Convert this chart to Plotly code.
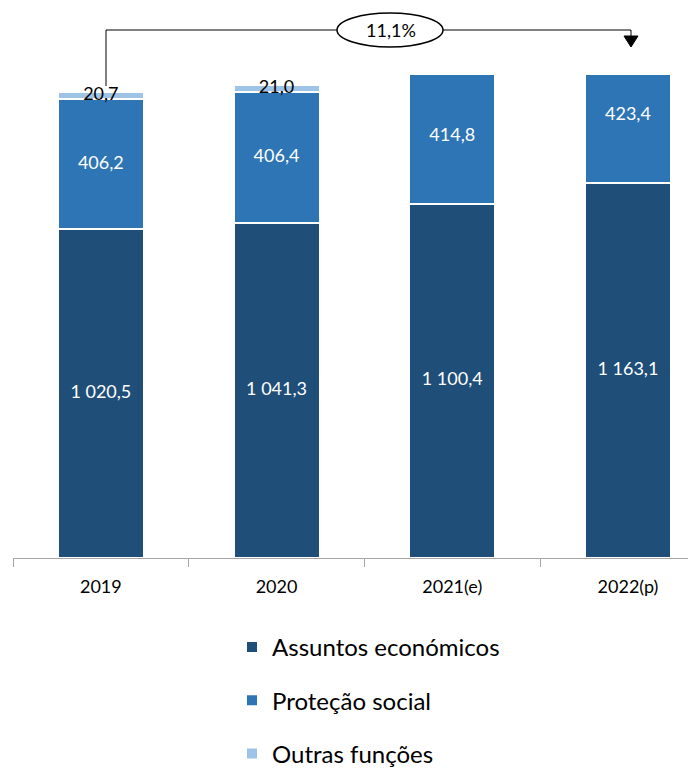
import plotly.graph_objects as go

anos = ["2019", "2020", "2021(e)", "2022(p)"]
assuntos = [1020.5, 1041.3, 1100.4, 1163.1]
protecao = [406.2, 406.4, 414.8, 423.4]
outras = [20.7, 21.0, None, None]
variacao = "11,1%"

c_assuntos = "#1F4E79"
c_protecao = "#2E75B6"
c_outras = "#9DC3E6"
fonte = "Lato, 'Open Sans', sans-serif"

# page body adds an 8px margin, so the figure is shifted by that much
OFF = 8
W, H = 696, 772
L, R, T, B = 13 - OFF, 0, 75 - OFF, 772 - (558 - OFF)
pw, ph = W - L - R, H - T - B
x_range = [-0.5, -0.5 + pw / 175.7]


def px_x(p):
    # screen pixel -> paper x
    return (p - OFF - L) / pw


def px_y(p):
    # screen pixel -> paper y
    return (H - B - (p - OFF)) / ph


fig = go.Figure()
fig.add_trace(go.Bar(x=anos, y=assuntos, name="Assuntos económicos",
                     marker=dict(color=c_assuntos, line=dict(color="white", width=2)),
                     textposition="none", legendgroup="a"))
fig.add_trace(go.Bar(x=anos, y=protecao, name="Proteção social",
                     marker=dict(color=c_protecao, line=dict(color="white", width=2)),
                     textposition="none", legendgroup="b"))
fig.add_trace(go.Bar(x=anos, y=outras, name="Outras funções",
                     marker=dict(color=c_outras, line=dict(color="white", width=2)),
                     textposition="none", legendgroup="c"))

# value labels at the middle of each segment
y_a = [a / 2 for a in assuntos]
y_p = [a + p / 2 for a, p in zip(assuntos, protecao)]
fig.add_trace(go.Scatter(x=anos, y=y_a, customdata=assuntos, mode="text",
                         texttemplate="%{customdata:,.1f}", textposition="middle center",
                         textfont=dict(color="white", size=18, family=fonte),
                         showlegend=False, hoverinfo="skip"))
fig.add_trace(go.Scatter(x=anos, y=y_p, customdata=protecao, mode="text",
                         texttemplate="%{customdata:,.1f}", textposition="middle center",
                         textfont=dict(color="white", size=18, family=fonte),
                         showlegend=False, hoverinfo="skip", cliponaxis=False))
ox, oy, ov = [], [], []
for i, v in enumerate(outras):
    if v is not None:
        ox.append(anos[i])
        oy.append(assuntos[i] + protecao[i] + v / 2)
        ov.append(v)
fig.add_trace(go.Scatter(x=ox, y=oy, customdata=ov, mode="text",
                         texttemplate="%{customdata:,.1f}", textposition="middle center",
                         textfont=dict(color="black", size=18, family=fonte),
                         showlegend=False, hoverinfo="skip", cliponaxis=False))

# growth arrow 2019 -> 2022
line_y = px_y(30)
xl, xr = px_x(106), px_x(631)
ln = dict(color="black", width=1)
fig.add_shape(type="line", xref="paper", yref="paper", x0=xl, x1=xl, y0=px_y(86), y1=line_y, line=ln)
fig.add_shape(type="line", xref="paper", yref="paper", x0=xl, x1=xr, y0=line_y, y1=line_y, line=ln)
fig.add_shape(type="line", xref="paper", yref="paper", x0=xr, x1=xr, y0=line_y, y1=px_y(36), line=ln)
fig.add_shape(type="path", xref="paper", yref="paper",
              path=f"M {px_x(624)},{px_y(36)} L {px_x(638)},{px_y(36)} L {px_x(631)},{px_y(47)} Z",
              fillcolor="black", line=dict(color="black", width=1))
fig.add_shape(type="circle", xref="paper", yref="paper",
              x0=px_x(337), x1=px_x(443), y0=px_y(47), y1=px_y(13),
              fillcolor="white", line=dict(color="black", width=1.5))
fig.add_annotation(xref="paper", yref="paper", x=px_x(391), y=px_y(30), text=variacao,
                   xanchor="center", yanchor="middle", showarrow=False,
                   font=dict(size=18, color="black", family=fonte))

fig.update_layout(
    width=W, height=H,
    margin=dict(l=L, r=R, t=T, b=B),
    barmode="stack", bargap=0.51,
    separators=", ",
    plot_bgcolor="white", paper_bgcolor="white",
    font=dict(family=fonte, color="black"),
    xaxis=dict(range=x_range, showline=True, linecolor="#A6A6A6", linewidth=1,
               ticks="outside", tickson="boundaries", ticklen=8, tickcolor="#A6A6A6",
               tickfont=dict(size=18, color="black"), ticklabelstandoff=12, showgrid=False),
    yaxis=dict(range=[0, 1500], visible=False),
    legend=dict(orientation="v", x=px_x(232), xanchor="left", y=px_y(625), yanchor="top",
                traceorder="grouped", tracegroupgap=19, font=dict(size=24, color="black")),
    showlegend=True,
)

fig.write_html("out.html")
